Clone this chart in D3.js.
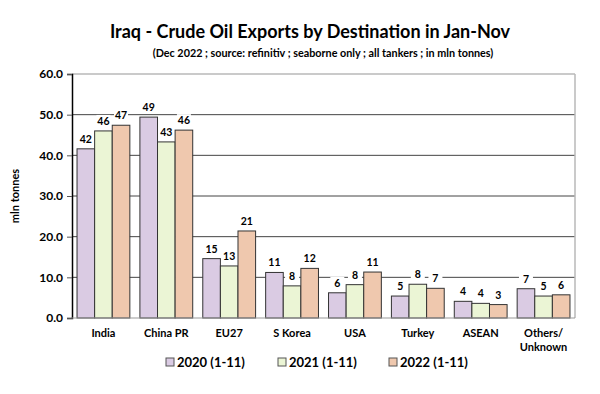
<!DOCTYPE html>
<html>
<head>
<meta charset="utf-8">
<script src="https://cdn.jsdelivr.net/npm/d3@7"></script>
<style>
  body { margin: 0; background: #fff; }
  text { font-family: Lato, "Open Sans", sans-serif; }
</style>
</head>
<body>
<div id="chart"></div>
<script>
// datos
const categories = ["India", "China PR", "EU27", "S Korea", "USA", "Turkey", "ASEAN", "Others/|Unknown"];
const seriesNames = ["2020 (1-11)", "2021 (1-11)", "2022 (1-11)"];
const values2020 = [41.6, 49.4, 14.6, 11.2, 6.2, 5.4, 4.1, 7.2];
const values2021 = [46.0, 43.3, 12.8, 7.9, 8.2, 8.3, 3.6, 5.4];
const values2022 = [47.4, 46.2, 21.4, 12.2, 11.3, 7.3, 3.3, 5.7];
const yTicks = [0, 10, 20, 30, 40, 50, 60];

const colors = ["#dacbe3", "#ebf5d5", "#efc8ae"];
const width = 600, height = 394;
const margin = { left: 72, right: 25, top: 74, bottom: 76 };

const svg = d3.select("#chart").append("svg")
  .attr("width", width)
  .attr("height", height);

const x = d3.scaleBand()
  .domain(categories)
  .range([margin.left, width - margin.right])
  .paddingInner(0.16)
  .paddingOuter(0.08);

const xSub = d3.scaleBand()
  .domain(seriesNames)
  .range([0, x.bandwidth()]);

const y = d3.scaleLinear()
  .domain([0, 60])
  .range([height - margin.bottom, margin.top]);

// Títulos
svg.append("text")
  .attr("x", 310).attr("y", 38)
  .attr("text-anchor", "middle")
  .style("font-size", "18px").style("font-weight", "bold")
  .text("Iraq - Crude Oil Exports by Destination in Jan-Nov");

svg.append("text")
  .attr("x", 323).attr("y", 57)
  .attr("text-anchor", "middle")
  .style("font-size", "10.8px").style("font-weight", "bold")
  .text("(Dec 2022 ; source: refinitiv ; seaborne only ; all tankers ; in mln tonnes)");

// Rejilla
svg.append("g")
  .selectAll("line")
  .data(yTicks.filter(d => d > 0 && d < 60))
  .enter().append("line")
  .attr("x1", margin.left).attr("x2", width - margin.right)
  .attr("y1", d => y(d)).attr("y2", d => y(d))
  .attr("stroke", "#444").attr("stroke-width", 1);

// borde superior y derecho
svg.append("line")
  .attr("x1", margin.left).attr("x2", width - margin.right)
  .attr("y1", y(60)).attr("y2", y(60))
  .attr("stroke", "#b8b8b8").attr("stroke-width", 1.5);
svg.append("line")
  .attr("x1", width - margin.right).attr("x2", width - margin.right)
  .attr("y1", y(60)).attr("y2", y(0))
  .attr("stroke", "#b8b8b8").attr("stroke-width", 1.5);

// Barras
const series = [values2020, values2021, values2022];
const groups = svg.append("g")
  .selectAll("g")
  .data(categories)
  .enter().append("g")
  .attr("transform", d => `translate(${x(d)},0)`);

groups.selectAll("rect")
  .data((d, i) => series.map((s, k) => ({ name: seriesNames[k], value: s[i], k: k })))
  .enter().append("rect")
  .attr("x", d => xSub(d.name))
  .attr("y", d => y(d.value))
  .attr("width", xSub.bandwidth())
  .attr("height", d => y(0) - y(d.value))
  .attr("fill", d => colors[d.k])
  .attr("stroke", "#333")
  .attr("stroke-width", 1);

// Etiquetas con fondo blanco
const labels = groups.selectAll(".lbl")
  .data((d, i) => series.map((s, k) => ({ name: seriesNames[k], value: s[i], k: k })))
  .enter().append("g")
  .attr("class", "lbl")
  .attr("transform", d => `translate(${xSub(d.name) + xSub.bandwidth() / 2},${y(d.value) - 6})`);

labels.append("rect")
  .attr("x", -7).attr("y", -10)
  .attr("width", 14).attr("height", 12)
  .attr("fill", "#fff");

labels.append("text")
  .attr("text-anchor", "middle")
  .style("font-size", "10.5px").style("font-weight", "bold")
  .text(d => Math.round(d.value));

// Eje Y
const yAxis = svg.append("g")
  .attr("transform", `translate(${margin.left},0)`)
  .call(d3.axisLeft(y).tickValues(yTicks).tickSize(5).tickFormat(d3.format(".1f")));
yAxis.select(".domain").attr("stroke", "#000").attr("stroke-width", 1.5);
yAxis.selectAll(".tick line").attr("stroke", "#555");
yAxis.selectAll(".tick text")
  .attr("x", -9)
  .style("font-size", "12px").style("font-weight", "bold")
  .style("font-family", "Lato, sans-serif");

// Eje X
svg.append("line")
  .attr("x1", margin.left).attr("x2", width - margin.right)
  .attr("y1", y(0)).attr("y2", y(0))
  .attr("stroke", "#999").attr("stroke-width", 1);

svg.append("g")
  .selectAll("text")
  .data(categories)
  .enter().append("text")
  .attr("x", d => x(d) + x.bandwidth() / 2)
  .attr("y", 337)
  .attr("text-anchor", "middle")
  .style("font-size", "11px").style("font-weight", "bold")
  .each(function (d) {
    d.split("|").forEach((part, i) => {
      d3.select(this).append("tspan")
        .attr("x", x(d) + x.bandwidth() / 2)
        .attr("dy", i === 0 ? 0 : 14)
        .text(part);
    });
  });

svg.append("text")
  .attr("transform", `translate(19,${(y(0) + y(60)) / 2}) rotate(-90)`)
  .attr("text-anchor", "middle")
  .style("font-size", "11px").style("font-weight", "bold")
  .text("mln tonnes");

// Leyenda
const legendX = [166, 278, 389];
const legend = svg.append("g")
  .selectAll("g")
  .data(seriesNames)
  .enter().append("g")
  .attr("transform", (d, i) => `translate(${legendX[i]},362)`);

legend.append("rect")
  .attr("x", 0).attr("y", -4)
  .attr("width", 8).attr("height", 8)
  .attr("fill", (d, i) => colors[i])
  .attr("stroke", "#555").attr("stroke-width", 1);

legend.append("text")
  .attr("x", 11).attr("y", 5)
  .style("font-size", "13px").style("font-weight", "bold")
  .text(d => d);
</script>
</body>
</html>
